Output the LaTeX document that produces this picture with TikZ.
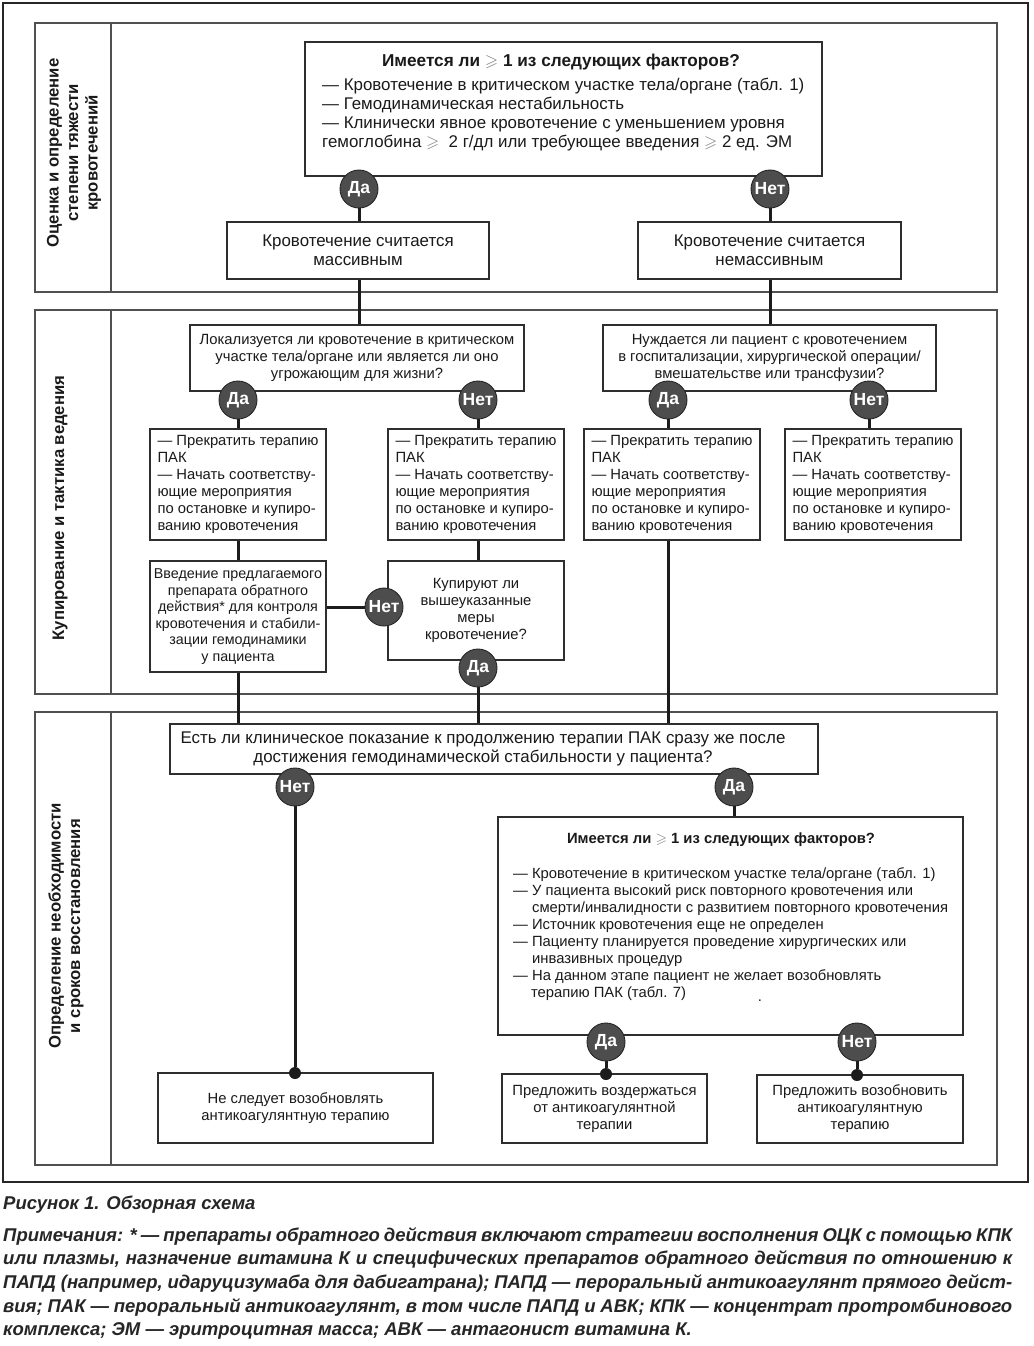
\documentclass[tikz,border=0pt]{standalone}
\usepackage{fontspec}
\usepackage{amssymb}
\setmainfont{Liberation Sans}
\usetikzlibrary{calc}
\definecolor{lanecol}{HTML}{505050}
\definecolor{boxcol}{HTML}{2E2E2E}
\definecolor{circcol}{HTML}{4D4D4D}
\definecolor{conncol}{HTML}{1C1C1C}
\definecolor{txtcol}{HTML}{1A1A1A}
\newcommand{\gsl}{{\color{black!50}$\geqslant$}}
\pgfdeclarelayer{bglayer}
\pgfdeclarelayer{lanelayer}
\pgfdeclarelayer{connlayer}
\pgfsetlayers{bglayer,lanelayer,connlayer,main}
\tikzset{
  lane/.style={draw=lanecol, line width=1.4pt},
  box/.style={draw=boxcol, line width=1.3pt, fill=white, inner sep=0pt, text=txtcol, align=center},
  dec/.style={circle, fill=circcol, draw=black!85, line width=0.9pt, minimum size=38pt, inner sep=0pt, text=white, font=\fontsize{17.5}{18}\selectfont\bfseries},
  conn/.style={draw=conncol, line width=3pt},
  enddot/.style={circle, fill=conncol, minimum size=12pt, inner sep=0pt},
  fbig/.style={font=\fontsize{16.9}{19}\selectfont},
  fsmall/.style={font=\fontsize{14.8}{17}\selectfont},
  lanelab/.style={rotate=90, align=center, font=\fontsize{16.7}{19.5}\selectfont\bfseries, text=txtcol},
  plain/.style={inner sep=0pt, text=txtcol},
  capstyle/.style={inner sep=0pt, text=black!85, font=\fontsize{18.5}{24}\selectfont\bfseries\itshape},
}
\begin{document}
\begin{tikzpicture}[x=1pt,y=-1pt]
\useasboundingbox (0,0) rectangle (1033,1346);
\begin{pgfonlayer}{bglayer}
\fill[white] (0,0) rectangle (1033,1346);
\end{pgfonlayer}

% ---------- lane 1 ----------
\node[box, minimum width=517, minimum height=134] (q0) at (563.5,109) {};
\node[plain, font=\fontsize{17.2}{19}\selectfont\bfseries] (q0t) at (561,62) {Имеется ли \gsl\ 1 из следующих факторов?};
\node[plain, fbig, align=left, anchor=west] (q0b) at (322,115) {— Кровотечение в критическом участке тела/органе (табл. 1)\\— Гемодинамическая нестабильность\\— Клинически явное кровотечение с уменьшением уровня\\гемоглобина \gsl\ \ 2 г/дл или требующее введения \gsl\ 2 ед. ЭМ};
\node[box, fbig, minimum width=262, minimum height=57] (mass) at (358,250.5) {Кровотечение считается\\массивным};
\node[box, fbig, minimum width=263, minimum height=57] (nmass) at (769.5,250.5) {Кровотечение считается\\немассивным};
\node[dec] (y0) at (359,189) {Да};
\node[dec] (n0) at (770,189) {Нет};

% ---------- lane 2 ----------
\node[box, fsmall, minimum width=334, minimum height=66] (q1) at (357,358) {Локализуется ли кровотечение в критическом\\участке тела/органе или является ли оно\\угрожающим для жизни?};
\node[box, fsmall, minimum width=333, minimum height=66] (q2) at (769.5,358) {Нуждается ли пациент с кровотечением\\в госпитализации, хирургической операции/\\вмешательстве или трансфузии?};
\node[box, fsmall, align=left, minimum width=176, minimum height=111] (a1) at (238,484.5) {— Прекратить терапию\\ПАК\\— Начать соответству-\\ющие мероприятия\\по остановке и купиро-\\ванию кровотечения};
\node[box, fsmall, align=left, minimum width=176, minimum height=111] (a2) at (476,484.5) {— Прекратить терапию\\ПАК\\— Начать соответству-\\ющие мероприятия\\по остановке и купиро-\\ванию кровотечения};
\node[box, fsmall, align=left, minimum width=176, minimum height=111] (a3) at (672,484.5) {— Прекратить терапию\\ПАК\\— Начать соответству-\\ющие мероприятия\\по остановке и купиро-\\ванию кровотечения};
\node[box, fsmall, align=left, minimum width=176, minimum height=111] (a4) at (873,484.5) {— Прекратить терапию\\ПАК\\— Начать соответству-\\ющие мероприятия\\по остановке и купиро-\\ванию кровотечения};
\node[box, font=\fontsize{14.3}{16.5}\selectfont, minimum width=176, minimum height=111] (b1) at (238,616.5) {Введение предлагаемого\\препарата обратного\\действия* для контроля\\кровотечения и стабили-\\зации гемодинамики\\у пациента};
\node[box, font=\fontsize{14.8}{16.8}\selectfont, minimum width=176, minimum height=99] (b2) at (476,610.5) {Купируют ли\\вышеуказанные\\меры\\кровотечение?};
\node[dec] (y1) at (238,400) {Да};
\node[dec] (n1) at (478,400) {Нет};
\node[dec] (y2) at (668,400) {Да};
\node[dec] (n2) at (869,400) {Нет};
\node[dec] (n3) at (384,607) {Нет};
\node[dec] (y3) at (478,668) {Да};

% ---------- lane 3 ----------
\node[box, fbig, minimum width=648, minimum height=50] (q3) at (494,749) {Есть ли клиническое показание к продолжению терапии ПАК сразу же после\hspace*{22pt}\\достижения гемодинамической стабильности у пациента?\hspace*{22pt}};
\node[box, minimum width=465, minimum height=218] (f) at (730.5,926) {};
\node[plain, font=\fontsize{14.8}{17}\selectfont\bfseries] (ft) at (721,840) {Имеется ли \gsl\ 1 из следующих факторов?};
\node[plain, fsmall, align=left, anchor=west] (fb) at (513,934) {— Кровотечение в критическом участке тела/органе (табл. 1)\\— У пациента высокий риск повторного кровотечения или\\\phantom{— }смерти/инвалидности с развитием повторного кровотечения\\— Источник кровотечения еще не определен\\— Пациенту планируется проведение хирургических или\\\phantom{— }инвазивных процедур\\— На данном этапе пациент не желает возобновлять\\\phantom{—}\hspace*{3pt}терапию ПАК (табл. 7)};
\node[plain, fsmall] (stray) at (760,1001) {.};
\node[box, fsmall, minimum width=275, minimum height=70] (h) at (295.5,1108) {Не следует возобновлять\\антикоагулянтную терапию};
\node[box, fsmall, minimum width=205, minimum height=69] (g1) at (604.5,1108.5) {Предложить воздержаться\\от антикоагулянтной\\терапии};
\node[box, fsmall, minimum width=206, minimum height=68] (g2) at (860,1109) {Предложить возобновить\\антикоагулянтную\\терапию};
\node[dec] (n4) at (295,787) {Нет};
\node[dec] (y4) at (734,787) {Да};
\node[dec] (y5) at (606,1042) {Да};
\node[dec] (n5) at (857,1042) {Нет};
\node[enddot] (d4) at (295,1073) {};
\node[enddot] (d5) at (606,1074) {};
\node[enddot] (d6) at (857,1075) {};

% ---------- lane labels ----------
\node[lanelab] (l1) at (74,153) {Оценка и определение\\степени тяжести\\кровотечений};
\node[lanelab] (l2) at (60,508) {Купирование и тактика ведения};
\node[lanelab] (l3) at (66,926) {Определение необходимости\\и сроков восстановления};

% ---------- caption ----------
\node[capstyle, anchor=west] (cap) at (3,1205) {Рисунок 1. Обзорная схема};
\node[capstyle, anchor=west] (nt1) at (3,1236) {\makebox[1009pt][s]{Примечания: * — препараты обратного действия включают стратегии восполнения ОЦК с помощью КПК}};
\node[capstyle, anchor=west] (nt2) at (3,1259.5) {\makebox[1009pt][s]{или плазмы, назначение витамина К и специфических препаратов обратного действия по отношению к}};
\node[capstyle, anchor=west] (nt3) at (3,1283.5) {\makebox[1009pt][s]{ПАПД (например, идаруцизумаба для дабигатрана); ПАПД — пероральный антикоагулянт прямого дейст-}};
\node[capstyle, anchor=west] (nt4) at (3,1307.5) {\makebox[1009pt][s]{вия; ПАК — пероральный антикоагулянт, в том числе ПАПД и АВК; КПК — концентрат протромбинового}};
\node[capstyle, anchor=west] (nt5) at (3,1331) {комплекса; ЭМ — эритроцитная масса; АВК — антагонист витамина К.};

% ---------- lanes ----------
\begin{pgfonlayer}{lanelayer}
\draw[line width=1.2pt, draw=black!85] (3,3) rectangle (1028,1182);
\draw[lane] (35,23) rectangle (997,292);
\draw[lane] (111,23) -- (111,292);
\draw[lane] (35,310) rectangle (997,694);
\draw[lane] (111,310) -- (111,694);
\draw[lane] (35,712) rectangle (997,1165);
\draw[lane] (111,712) -- (111,1165);
\end{pgfonlayer}

% ---------- connectors ----------
\begin{pgfonlayer}{connlayer}
\draw[conn] (q0.south -| y0) -- (y0);
\draw[conn] (q0.south -| n0) -- (n0);
\draw[conn] (y0) -- (y0 |- mass.north);
\draw[conn] (n0) -- (n0 |- nmass.north);
\draw[conn] (mass.south -| y0) -- (y0 |- q1.north);
\draw[conn] (nmass.south -| n0) -- (n0 |- q2.north);
\draw[conn] (q1.south -| y1) -- (y1);
\draw[conn] (q1.south -| n1) -- (n1);
\draw[conn] (q2.south -| y2) -- (y2);
\draw[conn] (q2.south -| n2) -- (n2);
\draw[conn] (y1) -- (y1 |- a1.north);
\draw[conn] (n1) -- (n1 |- a2.north);
\draw[conn] (y2) -- (y2 |- a3.north);
\draw[conn] (n2) -- (n2 |- a4.north);
\draw[conn] (a1.south) -- (b1.north);
\draw[conn] (n1 |- a2.south) -- (n1 |- b2.north);
\draw[conn] (b1.east |- n3) -- (n3);
\draw[conn] (n3) -- (b2.west |- n3);
\draw[conn] (b2.south -| y3) -- (y3);
\draw[conn] (y3) -- (y3 |- q3.north);
\draw[conn] (b1.south) -- (b1.south |- q3.north);
\draw[conn] (a3.south -| y2) -- (y2 |- q3.north);
\draw[conn] (q3.south -| n4) -- (n4);
\draw[conn] (q3.south -| y4) -- (y4);
\draw[conn] (n4) -- (d4);
\draw[conn] (y4) -- (y4 |- f.north);
\draw[conn] (f.south -| y5) -- (y5);
\draw[conn] (f.south -| n5) -- (n5);
\draw[conn] (y5) -- (d5);
\draw[conn] (n5) -- (d6);
\end{pgfonlayer}
\end{tikzpicture}
\end{document}
